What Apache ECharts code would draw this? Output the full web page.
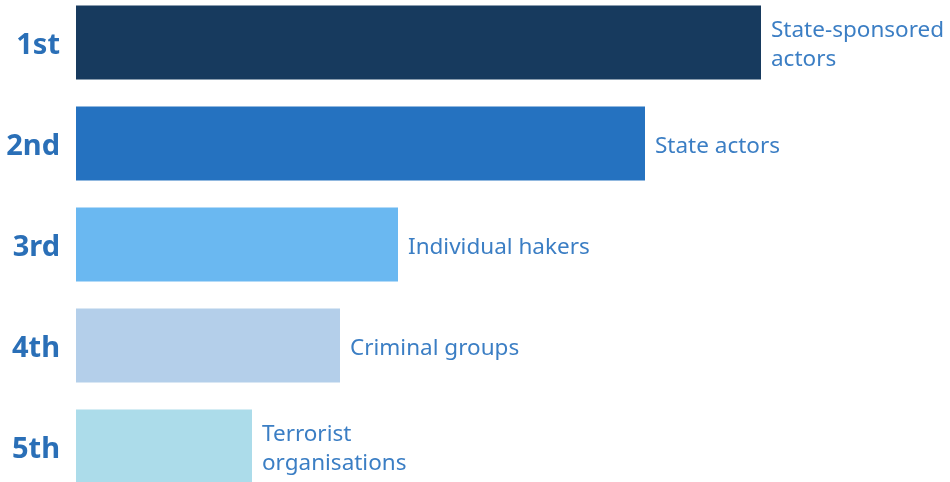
<!DOCTYPE html>
<html>
<head>
<meta charset="utf-8">
<script src="https://cdn.jsdelivr.net/npm/echarts@6/dist/echarts.min.js"></script>
<style>
  html, body { margin: 0; padding: 0; background: #ffffff; }
  #chart { width: 950px; height: 482px; }
</style>
</head>
<body>
<div id="chart"></div>
<script>
// Ranking of threat actors (bar length = relative weight)
const ranks = ['1st', '2nd', '3rd', '4th', '5th'];
const actors = ['State-sponsored\nactors', 'State actors', 'Individual hakers', 'Criminal groups', 'Terrorist\norganisations'];
const scores = [685, 569, 322, 264, 176];
const barColors = ['#173a5e', '#2572c0', '#6ab8f1', '#b4cfea', '#acdcea'];

const chart = echarts.init(document.getElementById('chart'), null, { renderer: 'canvas' });

chart.setOption({
  backgroundColor: '#ffffff',
  animation: false,
  grid: { left: 76, right: 0, top: -8, height: 505, outerBoundsMode: 'none' },
  xAxis: {
    type: 'value', min: 0, max: 874,
    show: false
  },
  yAxis: {
    type: 'category',
    data: ranks,
    inverse: true,
    axisLine: { show: false },
    axisTick: { show: false },
    splitLine: { show: false },
    axisLabel: {
      margin: 16,
      formatter: v => '{r|' + v + '}',
      rich: {
        r: {
          color: '#2a6fb7',
          fontFamily: 'Noto Sans',
          fontWeight: 'bold',
          fontSize: 29,
          padding: [6, 0, 0, 0]
        }
      }
    }
  },
  series: [{
    type: 'bar',
    barWidth: 74,
    data: scores.map((v, i) => ({
      value: v,
      name: actors[i],
      itemStyle: { color: barColors[i] }
    })),
    label: {
      show: true,
      position: 'right',
      distance: 10,
      offset: [0, 3],
      formatter: p => actors[p.dataIndex],
      color: '#3b7ec4',
      fontFamily: 'Noto Sans',
      fontSize: 22.5,
      lineHeight: 29
    }
  }]
});
</script>
</body>
</html>
